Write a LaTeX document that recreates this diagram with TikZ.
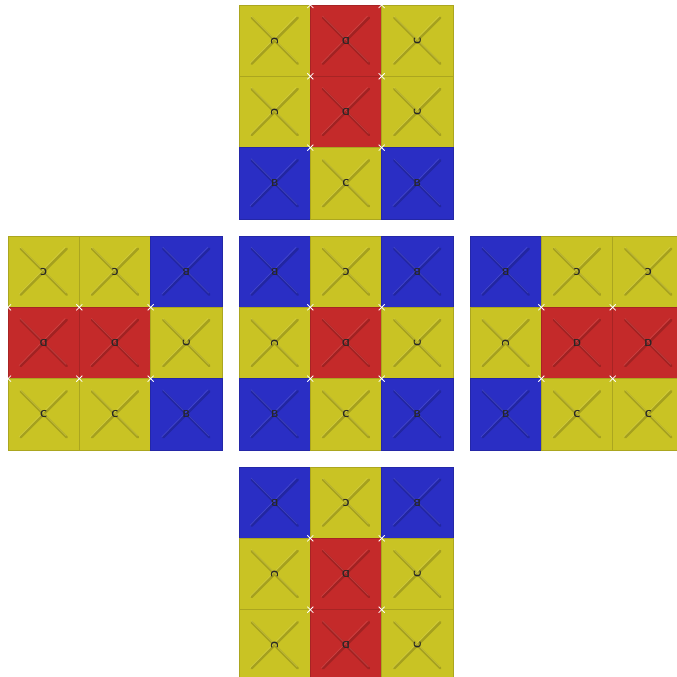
\documentclass[tikz,border=0pt]{standalone}
\definecolor{yellowtile}{RGB}{201,195,36}
\definecolor{redtile}{RGB}{196,42,42}
\definecolor{bluetile}{RGB}{42,46,196}
\begin{document}
\begin{tikzpicture}[
  x=1pt, y=-1pt,
  tile/.style={draw=#1!85!black, line width=0.5pt, fill=#1, minimum size=71.33pt, inner sep=0pt, outer sep=0pt,
    font=\fontsize{10}{10}\selectfont\sffamily\bfseries, text=black!85,
    path picture={
      \draw[#1!82!black, line width=2.4pt, line cap=round]
        (path picture bounding box.center) +(-23,-23) -- +(23,23) +(-23,23) -- +(23,-23);
      \draw[#1!80!white, line width=0.7pt, line cap=round, opacity=0.6]
        (path picture bounding box.center) +(-23.5,-24.5) -- +(22.5,21.5) +(-24.5,22.5) -- +(21.5,-24.5);
    }},
  joint/.style={draw=white, line width=0.8pt},
]
  \useasboundingbox (0,0) rectangle (677,677);
  \clip (0,0) rectangle (677,677);

  % top face
  \foreach \r/\c/\col/\txt/\rot in {
    1/1/yellowtile/C/-90, 1/2/redtile/D/180, 1/3/yellowtile/C/90,
    2/1/yellowtile/C/-90, 2/2/redtile/D/180, 2/3/yellowtile/C/90,
    3/1/bluetile/B/0, 3/2/yellowtile/C/0, 3/3/bluetile/B/0
  } {
    \node[tile=\col] (top\r\c) at ({239+(\c-0.5)*71.33}, {5+(\r-0.5)*71.33}) {\rotatebox{\rot}{\txt}};
  }

  % left face
  \foreach \r/\c/\col/\txt/\rot in {
    1/1/yellowtile/C/180, 1/2/yellowtile/C/180, 1/3/bluetile/B/180,
    2/1/redtile/D/180, 2/2/redtile/D/180, 2/3/yellowtile/C/90,
    3/1/yellowtile/C/0, 3/2/yellowtile/C/0, 3/3/bluetile/B/0
  } {
    \node[tile=\col] (left\r\c) at ({8+(\c-0.5)*71.33}, {236+(\r-0.5)*71.33}) {\rotatebox{\rot}{\txt}};
  }

  % middle face
  \foreach \r/\c/\col/\txt/\rot in {
    1/1/bluetile/B/180, 1/2/yellowtile/C/180, 1/3/bluetile/B/180,
    2/1/yellowtile/C/-90, 2/2/redtile/D/180, 2/3/yellowtile/C/90,
    3/1/bluetile/B/0, 3/2/yellowtile/C/0, 3/3/bluetile/B/0
  } {
    \node[tile=\col] (mid\r\c) at ({239+(\c-0.5)*71.33}, {236+(\r-0.5)*71.33}) {\rotatebox{\rot}{\txt}};
  }

  % right face
  \foreach \r/\c/\col/\txt/\rot in {
    1/1/bluetile/B/180, 1/2/yellowtile/C/180, 1/3/yellowtile/C/180,
    2/1/yellowtile/C/-90, 2/2/redtile/D/0, 2/3/redtile/D/0,
    3/1/bluetile/B/0, 3/2/yellowtile/C/0, 3/3/yellowtile/C/0
  } {
    \node[tile=\col] (right\r\c) at ({470+(\c-0.5)*71.33}, {236+(\r-0.5)*71.33}) {\rotatebox{\rot}{\txt}};
  }

  % bottom face
  \foreach \r/\c/\col/\txt/\rot in {
    1/1/bluetile/B/180, 1/2/yellowtile/C/180, 1/3/bluetile/B/180,
    2/1/yellowtile/C/-90, 2/2/redtile/D/180, 2/3/yellowtile/C/90,
    3/1/yellowtile/C/-90, 3/2/redtile/D/180, 3/3/yellowtile/C/90
  } {
    \node[tile=\col] (bot\r\c) at ({239+(\c-0.5)*71.33}, {467+(\r-0.5)*71.33}) {\rotatebox{\rot}{\txt}};
  }

  % white joints where four tiles meet
  \foreach \f in {top, left, mid, right, bot} {
    \foreach \n in {11, 12, 21, 22} {
      \draw[joint] (\f\n.south east) +(-3,-3) -- +(3,3) +(-3,3) -- +(3,-3);
    }
  }
  % joints on the outer edges
  \foreach \n/\a in {top11/north east, top12/north east, left11/south west, left21/south west} {
    \draw[joint] (\n.\a) +(-3,-3) -- +(3,3) +(-3,3) -- +(3,-3);
  }
\end{tikzpicture}
\end{document}
